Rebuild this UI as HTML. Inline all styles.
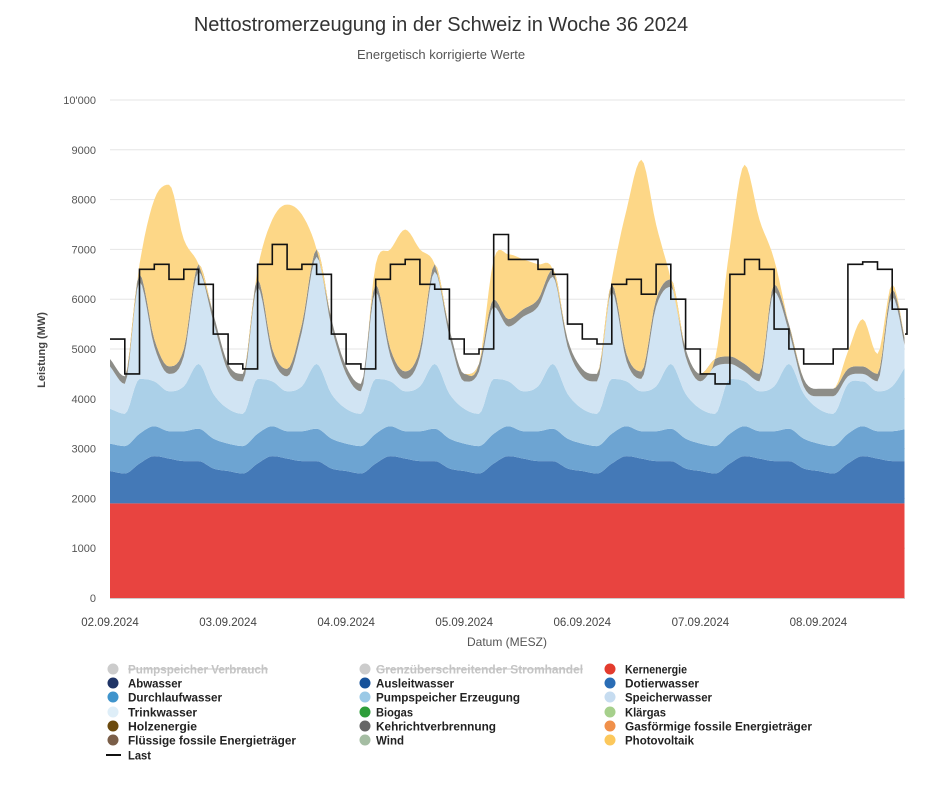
<!DOCTYPE html>
<html><head><meta charset="utf-8"><style>
body{margin:0;background:#fff;width:931px;height:787px;overflow:hidden}
svg{font-family:"Liberation Sans",sans-serif}
</style></head><body>
<svg id="chart" width="931" height="787" viewBox="0 0 931 787">
<text x="441" y="31" text-anchor="middle" font-size="20" fill="#333">Nettostromerzeugung in der Schweiz in Woche 36 2024</text>
<text x="441" y="59" text-anchor="middle" font-size="13" fill="#555">Energetisch korrigierte Werte</text>
<text transform="translate(45,350) rotate(-90)" text-anchor="middle" font-size="11" font-weight="bold" fill="#444">Leistung (MW)</text>
<text x="507" y="646" text-anchor="middle" font-size="12" fill="#555">Datum (MESZ)</text>
<g id="grid"></g><g id="areas"></g><g id="line"></g><g id="axes"></g><g id="legend"></g>
</svg>
<script>
const hours=[0,3,6,9,12,15,18,21,24,27,30,33,36,39,42,45,48,51,54,57,60,63,66,69,72,75,78,81,84,87,90,93,96,99,102,105,108,111,114,117,120,123,126,129,132,135,138,141,144,147,150,153,156,159,162];
const kern=[1900,1900,1900,1900,1900,1900,1900,1900,1900,1900,1900,1900,1900,1900,1900,1900,1900,1900,1900,1900,1900,1900,1900,1900,1900,1900,1900,1900,1900,1900,1900,1900,1900,1900,1900,1900,1900,1900,1900,1900,1900,1900,1900,1900,1900,1900,1900,1900,1900,1900,1900,1900,1900,1900,1900];
const lauf=[650,600,800,950,900,850,850,700,650,600,800,950,900,850,850,700,650,600,800,950,900,850,850,700,650,600,800,950,900,850,850,700,650,600,800,950,900,850,850,700,650,600,800,950,900,850,850,700,650,600,800,950,900,850,850];
const durch=[550,550,600,600,550,600,650,600,550,550,600,600,550,600,650,600,550,550,600,600,550,600,650,600,550,550,600,600,550,600,650,600,550,550,600,600,550,600,650,600,550,550,600,600,550,600,650,600,550,550,600,600,550,600,650];
const pump=[700,650,1100,900,800,900,1300,900,700,650,1100,900,800,900,1300,900,700,650,1100,900,800,900,1300,900,700,650,1100,900,800,900,1300,900,700,650,1100,900,800,900,1300,900,700,650,1100,900,800,900,1300,900,700,650,1000,900,800,900,1300];
const speicher=[850,600,1950,700,350,600,1850,1450,750,650,1850,500,300,1100,2150,1350,700,450,1750,500,250,600,1850,1150,550,850,1450,1100,1500,1600,1750,950,650,650,1750,400,250,1600,1550,750,550,950,300,200,200,1900,650,150,250,350,150,150,200,1800,150];
const uebrige=[150,150,150,150,150,150,150,150,150,150,150,150,150,150,150,150,150,150,150,150,150,150,150,150,150,150,150,150,150,150,150,150,150,150,150,150,150,150,150,150,150,150,150,150,150,150,150,150,150,150,150,150,150,150,150];
const pv=[0,0,200,2800,3650,2200,0,0,0,0,200,2600,3300,2200,0,0,0,0,400,2000,2850,2000,0,0,0,0,800,1300,1000,700,0,0,0,0,100,2900,4250,1500,0,0,0,0,2200,4000,3100,500,0,0,0,0,350,950,400,100,0];
const last=[5200,4500,6600,6700,6400,6600,6300,5300,4700,4600,6700,7100,6600,6700,6500,5300,4700,4600,6400,6700,6800,6300,6200,5200,4900,5000,7300,6800,6800,6600,6500,5500,5200,5100,6300,6400,6100,6700,6000,5000,4500,4300,6500,6800,6600,5400,5000,4700,4700,5000,6700,6750,6600,5800,5300];
const yTicks=[0,1000,2000,3000,4000,5000,6000,7000,8000,9000,10000];
const yTickLabels=["0","1000","2000","3000","4000","5000","6000","7000","8000","9000","10'000"];
const xTickHours=[0,24,48,72,96,120,144];
const xTickLabels=["02.09.2024","03.09.2024","04.09.2024","05.09.2024","06.09.2024","07.09.2024","08.09.2024"];

const NS="http://www.w3.org/2000/svg";
const X=t=>110+t*(795/161.6);
const Y=v=>598-v*0.0498;
function mk(tag,attrs,parent){const e=document.createElementNS(NS,tag);for(const k in attrs)e.setAttribute(k,attrs[k]);parent.appendChild(e);return e;}
// monotone cubic sampling
function smooth(xs,ys,step){
  const n=xs.length,d=[],m=[];
  for(let i=0;i<n-1;i++)d.push((ys[i+1]-ys[i])/(xs[i+1]-xs[i]));
  m[0]=d[0];m[n-1]=d[n-2];
  for(let i=1;i<n-1;i++)m[i]=(d[i-1]*d[i]<=0)?0:(d[i-1]+d[i])/2;
  const out=[];
  for(let i=0;i<n-1;i++){const h=xs[i+1]-xs[i];
    for(let s=0;s<h;s+=step){const t=s/h,t2=t*t,t3=t2*t;
      out.push([xs[i]+s,(2*t3-3*t2+1)*ys[i]+(t3-2*t2+t)*h*m[i]+(-2*t3+3*t2)*ys[i+1]+(t3-t2)*h*m[i+1]]);}}
  out.push([xs[n-1],ys[n-1]]);
  return out;
}
const grid=document.getElementById('grid'),axes=document.getElementById('axes');
yTicks.forEach((v,i)=>{
  if(v>0){const l=mk('line',{x1:110,x2:905,y1:Y(v),y2:Y(v),stroke:'#e6e6e6','stroke-width':1},grid);
  
  }
  const t=mk('text',{x:96,y:Y(v)+4,'text-anchor':'end','font-size':11,fill:'#555'},axes);
  t.textContent=yTickLabels[i];
  
  
});
xTickHours.forEach((h,i)=>{
  const t=mk('text',{x:X(h),y:626,'text-anchor':'middle','font-size':11.5,fill:'#444'},axes);
  t.textContent=xTickLabels[i];
  
  
});
const series=[["kernenergie",kern,"#e84440"],["laufwasser",lauf,"#4479b7"],["durchlaufwasser",durch,"#6da4d2"],["pumpspeicher",pump,"#abd0e8"],["speicherwasser",speicher,"#d1e4f3"],["kehricht",uebrige,"#8d8d88"],["photovoltaik",pv,"#fdd787"]];
const areas=document.getElementById('areas');
let base=hours.map(()=>0);
const tmax=161.6;
series.forEach(([name,vals,col])=>{
  const top=base.map((b,i)=>b+vals[i]);
  const st=smooth(hours,top,0.5).filter(p=>p[0]<=tmax);
  const sb=smooth(hours,base,0.5).filter(p=>p[0]<=tmax);
  let d='M'+st.map(p=>X(p[0]).toFixed(1)+','+Y(Math.max(0,p[1])).toFixed(1)).join('L');
  for(let i=sb.length-1;i>=0;i--)d+='L'+X(sb[i][0]).toFixed(1)+','+Y(Math.max(0,sb[i][1])).toFixed(1);
  const p=mk('path',{d:d+'Z',fill:col},areas);
  
  
  base=top;
});
let ld='M'+X(hours[0])+','+Y(last[0]);
for(let i=1;i<hours.length;i++){ld+='L'+X(hours[i]).toFixed(1)+','+Y(last[i-1]).toFixed(1)+'L'+X(hours[i]).toFixed(1)+','+Y(last[i]).toFixed(1);}
ld+='L'+X(tmax)+','+Y(last[last.length-1]);
const lp=mk('path',{d:ld,fill:'none',stroke:'#111','stroke-width':1.6},document.getElementById('line'));


const ax=mk('line',{x1:110,x2:905,y1:598.5,y2:598.5,stroke:'#ccc'},axes);



const legendItems=[
 [113,128,669,"#ccc","Pumpspeicher Verbrauch",140,true],[365,376,669,"#ccc","Grenzüberschreitender Stromhandel",207,true],[610,625,669,"#e33b2d","Kernenergie",62,false],
 [113,128,683,"#1f3466","Abwasser",54,false],[365,376,683,"#16529a","Ausleitwasser",78,false],[610,625,683,"#2a6db5","Dotierwasser",74,false],
 [113,128,697,"#3f94cc","Durchlaufwasser",94,false],[365,376,697,"#9ac9e6","Pumpspeicher Erzeugung",144,false],[610,625,697,"#c6dcf0","Speicherwasser",87,false],
 [113,128,712,"#deeef8","Trinkwasser",69,false],[365,376,712,"#2e9e3a","Biogas",37,false],[610,625,712,"#a6d08c","Klärgas",41,false],
 [113,128,726,"#6b4a0e","Holzenergie",69,false],[365,376,726,"#666","Kehrichtverbrennung",120,false],[610,625,726,"#f0904a","Gasförmige fossile Energieträger",187,false],
 [113,128,740,"#7a5e48","Flüssige fossile Energieträger",168,false],[365,376,740,"#a5bda3","Wind",28,false],[610,625,740,"#fcc85c","Photovoltaik",69,false]
];
const lg=document.getElementById('legend');
legendItems.forEach(([cx,tx,y,col,label,w,off])=>{
  const g=mk('g',{},lg);
  
  
  mk('circle',{cx:cx,cy:y,r:5.5,fill:col},g);
  const t=mk('text',{x:tx,y:y+4.5,'font-size':12,'font-weight':'bold',fill:off?'#c4c4c4':'#222',textLength:w,lengthAdjust:'spacingAndGlyphs'},g);
  t.textContent=label;
  if(off)mk('line',{x1:tx,x2:tx+w,y1:y,y2:y,stroke:'#c4c4c4','stroke-width':1},g);
});
const lgl=mk('g',{},lg);


mk('line',{x1:106,x2:121,y1:755,y2:755,stroke:'#111','stroke-width':2},lgl);
const lt=mk('text',{x:128,y:759.5,'font-size':12,'font-weight':'bold',fill:'#222',textLength:23,lengthAdjust:'spacingAndGlyphs'},lgl);
lt.textContent="Last";
</script>
</body></html>
